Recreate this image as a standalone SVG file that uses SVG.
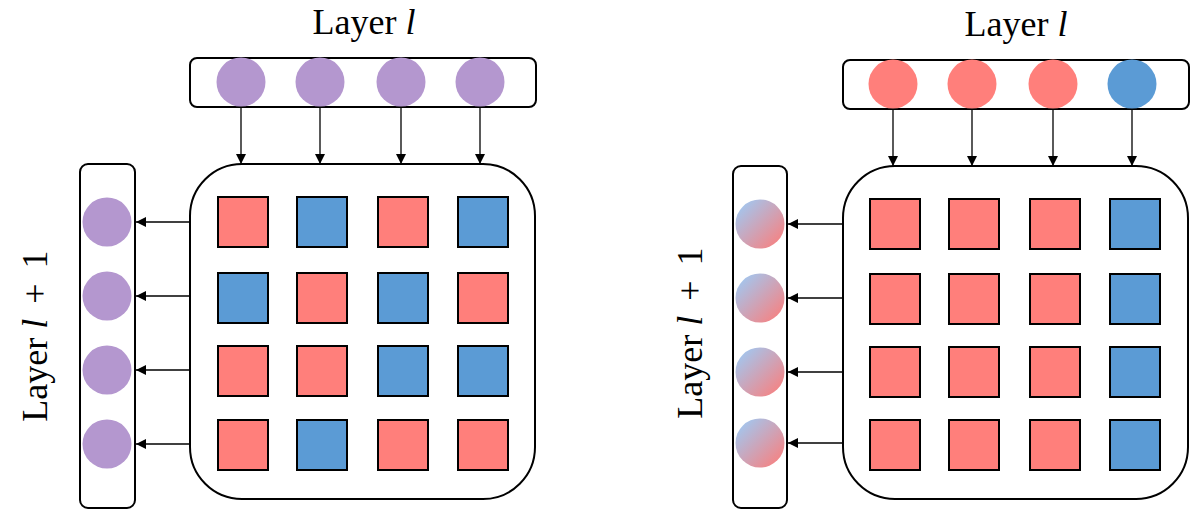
<svg xmlns="http://www.w3.org/2000/svg" width="1198" height="514" viewBox="0 0 1198 514">
<style>
.bar{fill:#fff;stroke:#000;stroke-width:2}
.box{fill:#fff;stroke:#000;stroke-width:2}
.r{fill:#FF7F7B;stroke:#000;stroke-width:2}
.b{fill:#5B9BD5;stroke:#000;stroke-width:2}
.cp{fill:#B497CF}
.cr{fill:#FF7F7B}
.cb{fill:#5B9BD5}
.cg{fill:url(#grad)}
.lbl{font-family:"Liberation Serif","Times New Roman",serif;font-size:36px;fill:#000}
.conn line{stroke:#000;stroke-width:1.3;marker-end:url(#ah)}
</style>
<defs>
<marker id="ah" viewBox="0 0 10 10" refX="10" refY="5" markerWidth="10" markerHeight="10" markerUnits="userSpaceOnUse" orient="auto">
<path d="M0,0 L10,5 L0,10 z" fill="#000"/>
</marker>
<linearGradient id="grad" x1="0" y1="0" x2="1" y2="1">
<stop offset="0.15" stop-color="#A8C2E8"/>
<stop offset="0.85" stop-color="#F0878A"/>
</linearGradient>
</defs>

<!-- Left panel -->
<g id="left-title"><text class="lbl" x="364" y="34" text-anchor="middle">Layer <tspan font-style="italic">l</tspan></text></g>
<g id="left-side-label"><text class="lbl" transform="translate(47,336) rotate(-90)" text-anchor="middle">Layer <tspan font-style="italic">l</tspan> <tspan dx="6">+</tspan> <tspan dx="6">1</tspan></text></g>
<g id="left-input">
<rect class="bar" x="190" y="58" width="346" height="49" rx="7"/>
<circle class="cp" cx="241" cy="82" r="24.5"/>
<circle class="cp" cx="320" cy="82" r="24.5"/>
<circle class="cp" cx="401" cy="82" r="24.5"/>
<circle class="cp" cx="480" cy="82" r="24.5"/>
</g>
<g id="left-output">
<rect class="bar" x="80" y="164" width="55" height="344" rx="8"/>
<circle class="cp" cx="107" cy="222" r="24.5"/>
<circle class="cp" cx="107" cy="296" r="24.5"/>
<circle class="cp" cx="107" cy="370" r="24.5"/>
<circle class="cp" cx="107" cy="444" r="24.5"/>
</g>
<g id="left-matrix">
<rect class="box" x="190" y="164" width="345" height="335" rx="52"/>
<rect class="r" x="218" y="197" width="50" height="50"/>
<rect class="b" x="297" y="197" width="50" height="50"/>
<rect class="r" x="378" y="197" width="50" height="50"/>
<rect class="b" x="458" y="197" width="50" height="50"/>
<rect class="b" x="218" y="273" width="50" height="50"/>
<rect class="r" x="297" y="273" width="50" height="50"/>
<rect class="b" x="378" y="273" width="50" height="50"/>
<rect class="r" x="458" y="273" width="50" height="50"/>
<rect class="r" x="218" y="346" width="50" height="50"/>
<rect class="r" x="297" y="346" width="50" height="50"/>
<rect class="b" x="378" y="346" width="50" height="50"/>
<rect class="b" x="458" y="346" width="50" height="50"/>
<rect class="r" x="218" y="420" width="50" height="50"/>
<rect class="b" x="297" y="420" width="50" height="50"/>
<rect class="r" x="378" y="420" width="50" height="50"/>
<rect class="r" x="458" y="420" width="50" height="50"/>
</g>
<g id="left-connectors" class="conn">
<line x1="241" y1="107" x2="241" y2="164"/>
<line x1="320" y1="107" x2="320" y2="164"/>
<line x1="401" y1="107" x2="401" y2="164"/>
<line x1="480" y1="107" x2="480" y2="164"/>
<line x1="190" y1="222" x2="136" y2="222"/>
<line x1="190" y1="296" x2="136" y2="296"/>
<line x1="190" y1="370" x2="136" y2="370"/>
<line x1="190" y1="444" x2="136" y2="444"/>
</g>

<!-- Right panel -->
<g id="right-title"><text class="lbl" x="1016" y="36" text-anchor="middle">Layer <tspan font-style="italic">l</tspan></text></g>
<g id="right-side-label"><text class="lbl" transform="translate(702,333) rotate(-90)" text-anchor="middle">Layer <tspan font-style="italic">l</tspan> <tspan dx="6">+</tspan> <tspan dx="6">1</tspan></text></g>
<g id="right-input">
<rect class="bar" x="843" y="60" width="346" height="49" rx="7"/>
<circle class="cr" cx="893" cy="84" r="24.5"/>
<circle class="cr" cx="972" cy="84" r="24.5"/>
<circle class="cr" cx="1053" cy="84" r="24.5"/>
<circle class="cb" cx="1132" cy="84" r="24.5"/>
</g>
<g id="right-output">
<rect class="bar" x="733" y="166" width="54" height="342" rx="8"/>
<circle class="cg" cx="760" cy="224" r="24.5"/>
<circle class="cg" cx="760" cy="298" r="24.5"/>
<circle class="cg" cx="760" cy="372" r="24.5"/>
<circle class="cg" cx="760" cy="443" r="24.5"/>
</g>
<g id="right-matrix">
<rect class="box" x="843" y="166" width="345" height="333" rx="52"/>
<rect class="r" x="870" y="199" width="50" height="50"/>
<rect class="r" x="949" y="199" width="50" height="50"/>
<rect class="r" x="1030" y="199" width="50" height="50"/>
<rect class="b" x="1110" y="199" width="50" height="50"/>
<rect class="r" x="870" y="274" width="50" height="50"/>
<rect class="r" x="949" y="274" width="50" height="50"/>
<rect class="r" x="1030" y="274" width="50" height="50"/>
<rect class="b" x="1110" y="274" width="50" height="50"/>
<rect class="r" x="870" y="347" width="50" height="50"/>
<rect class="r" x="949" y="347" width="50" height="50"/>
<rect class="r" x="1030" y="347" width="50" height="50"/>
<rect class="b" x="1110" y="347" width="50" height="50"/>
<rect class="r" x="870" y="420" width="50" height="50"/>
<rect class="r" x="949" y="420" width="50" height="50"/>
<rect class="r" x="1030" y="420" width="50" height="50"/>
<rect class="b" x="1110" y="420" width="50" height="50"/>
</g>
<g id="right-connectors" class="conn">
<line x1="893" y1="109" x2="893" y2="166"/>
<line x1="972" y1="109" x2="972" y2="166"/>
<line x1="1053" y1="109" x2="1053" y2="166"/>
<line x1="1132" y1="109" x2="1132" y2="166"/>
<line x1="843" y1="224" x2="788" y2="224"/>
<line x1="843" y1="298" x2="788" y2="298"/>
<line x1="843" y1="372" x2="788" y2="372"/>
<line x1="843" y1="443" x2="788" y2="443"/>
</g>
</svg>
